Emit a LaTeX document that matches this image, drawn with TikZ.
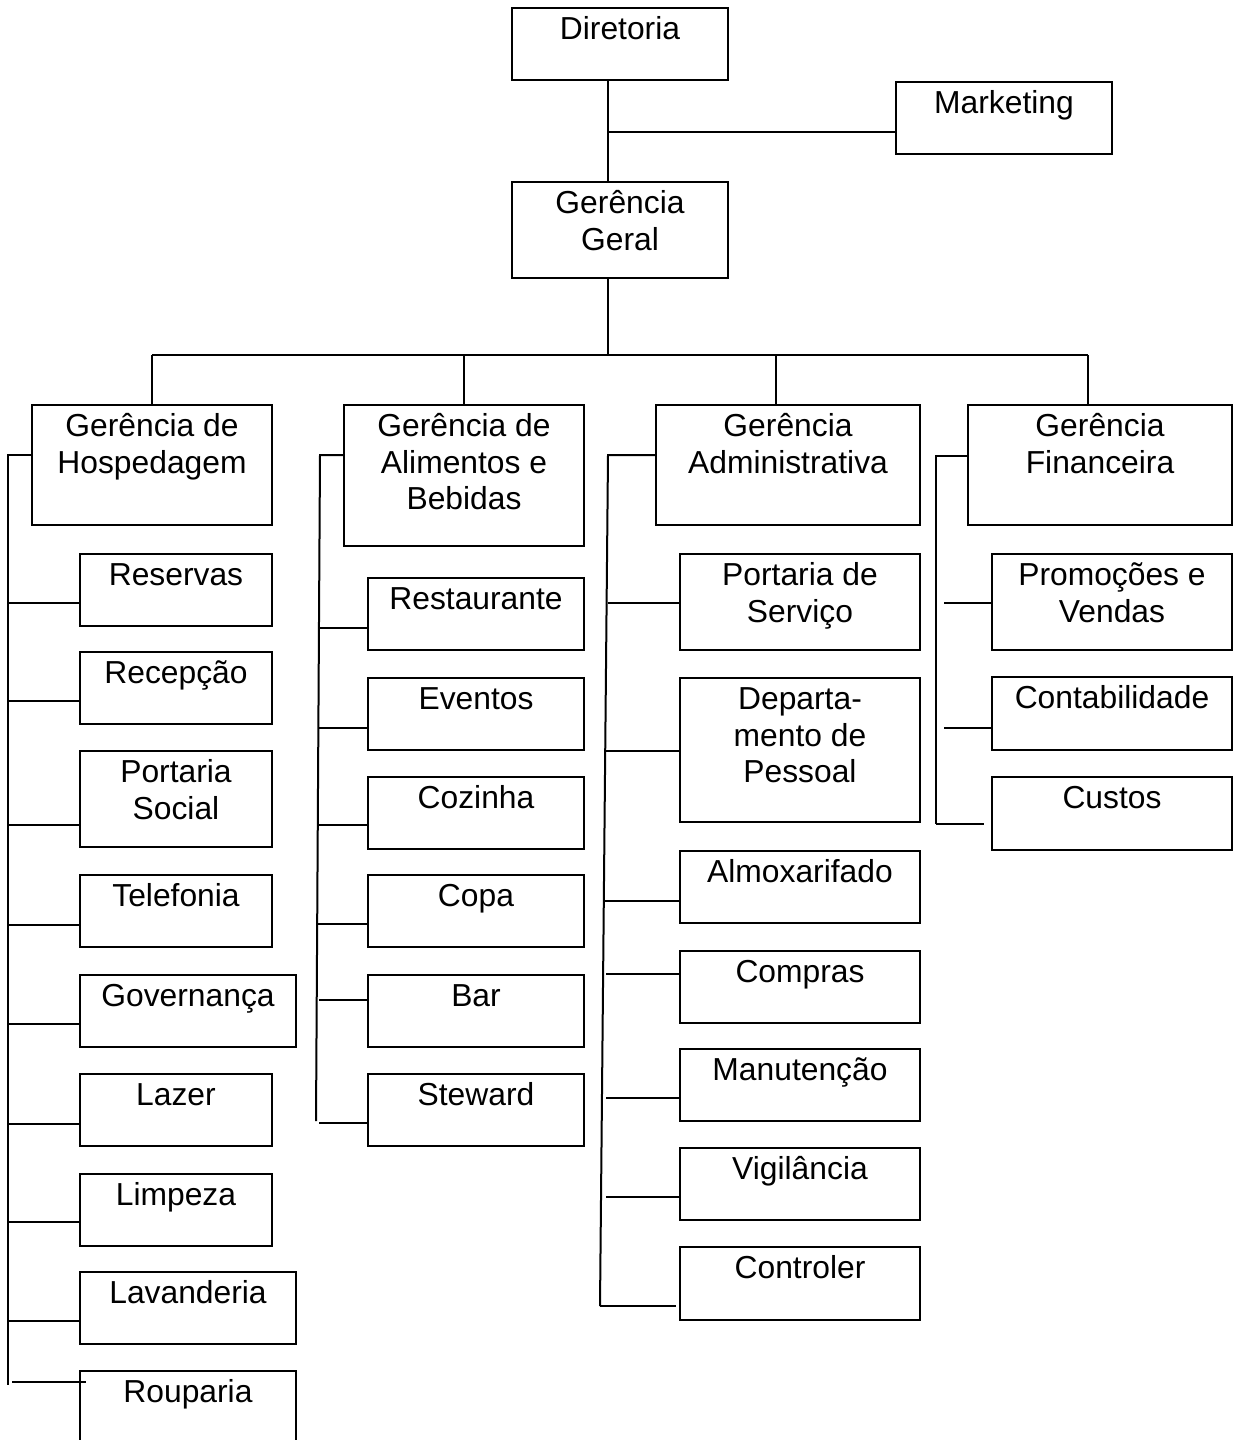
\documentclass[tikz,border=0pt]{standalone}
\usepackage{fontspec}
\setmainfont{Liberation Sans}
\newcommand\orgbox[6]{%
  \pgfmathsetmacro\myw{#4-#2}\pgfmathsetmacro\myh{#5-#3}%
  \pgfmathsetmacro\myx{(#2+#4)/2}\pgfmathsetmacro\myy{(#3+#5)/2}%
  \node[box, minimum width=\myw pt, minimum height=\myh pt] (#1) at (\myx,\myy) {};
  \node[lbl] (#1-t) at (\myx,#3+5.5) {\rule{0pt}{26pt}#6};}
\newcommand\kid[9]{%
  \orgbox{#1}{#2}{#3}{#4}{#5}{#6}%
  \coordinate (#1-s) at (#7,#9);
  \coordinate (#1-e) at (#8,#9);
  \draw[conn] (#1-s) -- (#1-e);}
\begin{document}
\begin{tikzpicture}[x=1pt,y=-1pt,
  box/.style={draw, line width=2pt, inner sep=0pt, outer sep=0pt},
  lbl/.style={anchor=north, align=center, inner sep=0pt, outer sep=0pt,
    font=\fontsize{31.8pt}{36.6pt}\selectfont},
  conn/.style={line width=2pt}]
\useasboundingbox (0,0) rectangle (1234,1440);
\clip (0,0) rectangle (1234,1440);
% top level
\orgbox{dir}{512}{8}{728}{80}{Diretoria}
\orgbox{mkt}{896}{82}{1112}{154}{Marketing}
\orgbox{gg}{512}{182}{728}{278}{Gerência\\Geral}
\orgbox{gh}{32}{405}{272}{525}{Gerência de\\Hospedagem}
\orgbox{gab}{344}{405}{584}{546}{Gerência de\\Alimentos e\\Bebidas}
\orgbox{ga}{656}{405}{920}{525}{Gerência\\Administrativa}
\orgbox{gf}{968}{405}{1232}{525}{Gerência\\Financeira}
% top connectors
\coordinate (ax) at (608,132);
\draw[conn] (dir.south -| ax) -- (gg.north -| ax);
\draw[conn] (ax) -- (ax -| mkt.west);
\coordinate (bus) at (608,355);
\draw[conn] (gg.south -| bus) -- (bus);
\coordinate (bl) at (152,355);
\coordinate (b2) at (464,355);
\coordinate (b3) at (776,355);
\coordinate (br) at (1088,355);
\draw[conn] (bl) -- (br);
\draw[conn] (bl) -- (bl |- gh.north);
\draw[conn] (b2) -- (b2 |- gab.north);
\draw[conn] (b3) -- (b3 |- ga.north);
\draw[conn] (br) -- (br |- gf.north);
% side trunks
\coordinate (t1a) at (8,455);   \coordinate (t1b) at (8,1385);
\coordinate (t2a) at (320,455); \coordinate (t2b) at (316,1121);
\coordinate (t3a) at (608,455); \coordinate (t3b) at (600,1306);
\coordinate (t4a) at (936,456); \coordinate (t4b) at (936,824);
\draw[conn] (t1a -| gh.west) -- (t1a) -- (t1b);
\draw[conn] (t2a -| gab.west) -- (t2a) -- (t2b);
\draw[conn] (t3a -| ga.west) -- (t3a) -- (t3b);
\draw[conn] (t4a -| gf.west) -- (t4a) -- (t4b);
% Hospedagem
\kid{res}{80}{554}{272}{626}{Reservas}{8}{80}{603}
\kid{rec}{80}{652}{272}{724}{Recepção}{8}{80}{701}
\kid{pso}{80}{751}{272}{847}{Portaria\\Social}{8}{80}{825}
\kid{tel}{80}{875}{272}{947}{Telefonia}{8}{80}{925}
\kid{gov}{80}{975}{296}{1047}{Governança}{8}{80}{1024}
\kid{laz}{80}{1074}{272}{1146}{Lazer}{8}{80}{1124}
\kid{lim}{80}{1174}{272}{1246}{Limpeza}{8}{80}{1222}
\kid{lav}{80}{1272}{296}{1344}{Lavanderia}{8}{80}{1321}
\kid{rou}{80}{1371}{296}{1443}{Rouparia}{12}{86}{1382}
% Alimentos e Bebidas
\kid{rest}{368}{578}{584}{650}{Restaurante}{319}{368}{628}
\kid{evt}{368}{678}{584}{750}{Eventos}{318.4}{368}{728}
\kid{coz}{368}{777}{584}{849}{Cozinha}{317.8}{368}{825}
\kid{copa}{368}{875}{584}{947}{Copa}{317.2}{368}{924}
\kid{bar}{368}{975}{584}{1047}{Bar}{319}{368}{1000}
\kid{stw}{368}{1074}{584}{1146}{Steward}{319}{368}{1123}
% Administrativa
\kid{psv}{680}{554}{920}{650}{Portaria de\\Serviço}{607.5}{680}{603}
\kid{dep}{680}{678}{920}{822}{Departa-\\mento de\\Pessoal}{605.2}{680}{751}
\kid{alm}{680}{851}{920}{923}{Almoxarifado}{603.8}{680}{901}
\kid{com}{680}{951}{920}{1023}{Compras}{606}{680}{974}
\kid{man}{680}{1049}{920}{1121}{Manutenção}{606}{680}{1098}
\kid{vig}{680}{1148}{920}{1220}{Vigilância}{606}{680}{1197}
\kid{ctl}{680}{1247}{920}{1320}{Controler}{600}{676}{1306}
% Financeira
\kid{prv}{992}{554}{1232}{650}{Promoções e\\Vendas}{944}{992}{603}
\kid{cont}{992}{677}{1232}{750}{Contabilidade}{944}{992}{728}
\kid{cus}{992}{777}{1232}{850}{Custos}{936}{984}{824}
\end{tikzpicture}
\end{document}
